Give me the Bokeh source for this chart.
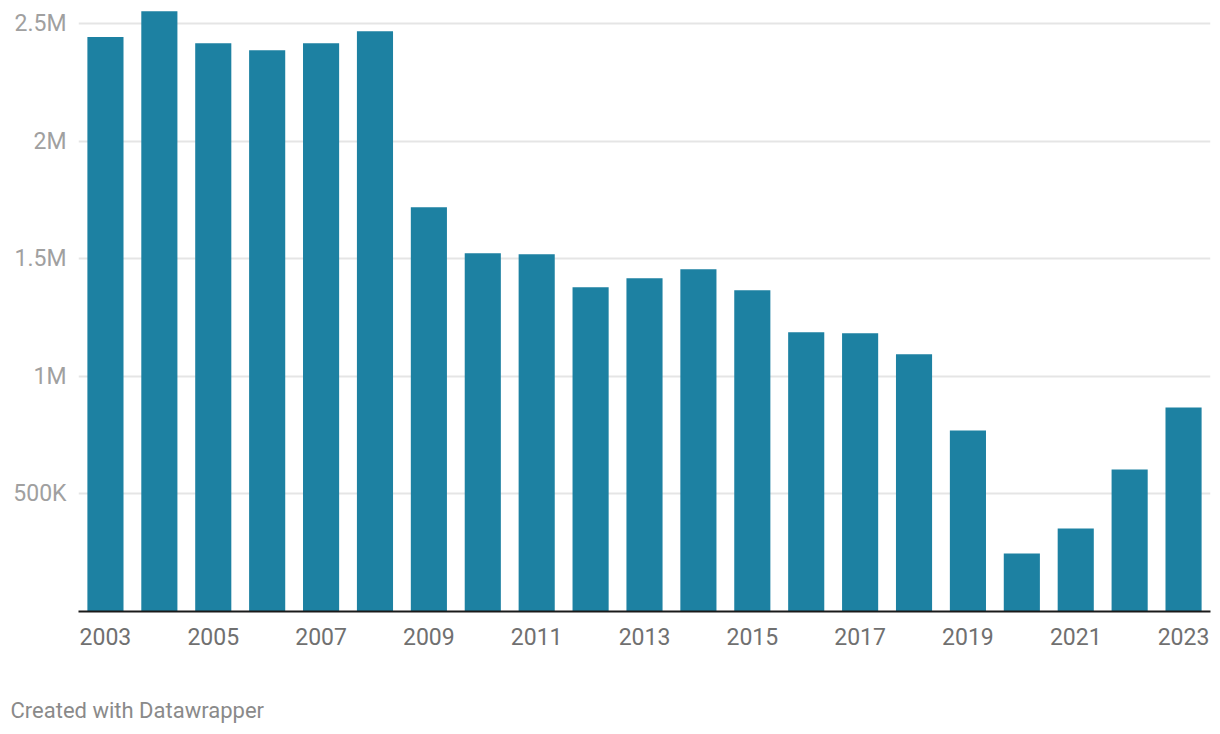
from bokeh.plotting import figure
from bokeh.models import FixedTicker, Range1d, Title, ColumnDataSource
from bokeh.embed import file_html
from bokeh.resources import INLINE

years = list(range(2003, 2024))
values = [2443000, 2553000, 2417000, 2387000, 2417000, 2468000, 1719000,
          1523000, 1519000, 1379000, 1417000, 1455000, 1366000, 1187000,
          1183000, 1094000, 770000, 247000, 353000, 604000, 868000]
y_ticks = [500000, 1000000, 1500000, 2000000, 2500000]
y_tick_labels = ["500K", "1M", "1.5M", "2M", "2.5M"]
x_ticks = list(range(2003, 2024, 2))

source = ColumnDataSource(data=dict(year=years, value=values))

p = figure(width=1212, height=734, output_backend="svg", toolbar_location=None,
           x_range=Range1d(2002.5, 2023.5), y_range=Range1d(0, 2.56e6),
           min_border_left=78, min_border_right=2, min_border_top=9,
           min_border_bottom=123)
p.outline_line_color = None
p.background_fill_color = "white"
p.border_fill_color = "white"

p.vbar(x="year", top="value", width=0.67, source=source,
       fill_color="#1d81a2", line_color=None)

# y axis
yax = p.yaxis[0]
yax.ticker = FixedTicker(ticks=y_ticks)
yax.major_label_overrides = {t: l for t, l in zip(y_ticks, y_tick_labels)}
yax.axis_line_color = None
yax.major_tick_line_color = None
yax.minor_tick_line_color = None
yax.major_tick_out = 0
yax.major_tick_in = 0
yax.major_label_standoff = 12
yax.major_label_text_font = "Roboto"
yax.major_label_text_font_size = "23px"
yax.major_label_text_color = "#a0a0a0"

# x axis
xax = p.xaxis[0]
xax.ticker = FixedTicker(ticks=x_ticks)
xax.axis_line_color = "#1a1a1a"
xax.axis_line_width = 2
xax.major_tick_line_color = None
xax.minor_tick_line_color = None
xax.major_tick_out = 0
xax.major_tick_in = 0
xax.major_label_standoff = 16
xax.major_label_text_font = "Roboto"
xax.major_label_text_font_size = "23px"
xax.major_label_text_color = "#707070"

p.xgrid.grid_line_color = None
p.ygrid.ticker = FixedTicker(ticks=y_ticks)
p.ygrid.grid_line_color = "#e5e5e5"
p.ygrid.grid_line_width = 1.8

# empty spacer between the axis and the footer
spacer = Title(text=" ", standoff=21, text_font="Roboto", text_font_size="22px",
               text_color="#ffffff", text_font_style="normal")
p.add_layout(spacer, "below")

footer = Title(text="Created with Datawrapper", align="left", offset=-68,
               standoff=0, text_font="Roboto", text_font_size="22px",
               text_color="#8a8a8a", text_font_style="normal")
p.add_layout(footer, "below")

open("out.html", "w").write(file_html(p, INLINE))
